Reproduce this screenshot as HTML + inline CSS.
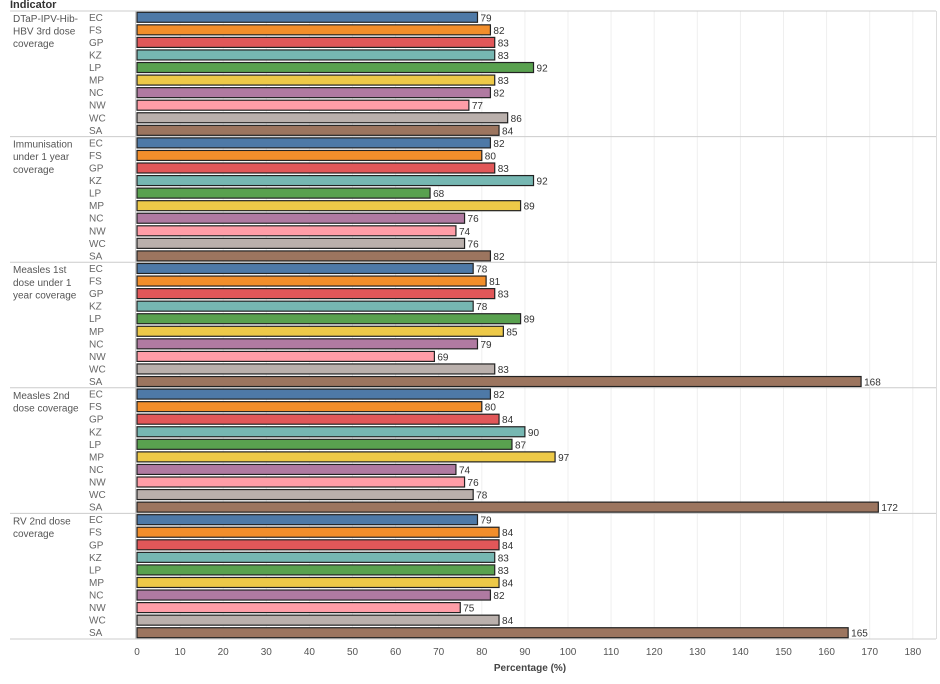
<!DOCTYPE html>
<html><head><meta charset="utf-8"><style>
body{margin:0;background:#fff;font-family:"Liberation Sans",sans-serif;}
svg text{font-family:"Liberation Sans",sans-serif;}
</style></head><body>
<svg id="chart" width="940" height="679" xmlns="http://www.w3.org/2000/svg"></svg>
<script>
const indicators = [["DTaP-IPV-Hib-","HBV 3rd dose","coverage"],["Immunisation","under 1 year","coverage"],["Measles 1st","dose under 1","year coverage"],["Measles 2nd","dose coverage"],["RV 2nd dose","coverage"]];
const provinces = ["EC","FS","GP","KZ","LP","MP","NC","NW","WC","SA"];
const dtapValues = [79,82,83,83,92,83,82,77,86,84];
const immunValues = [82,80,83,92,68,89,76,74,76,82];
const measles1Values = [78,81,83,78,89,85,79,69,83,168];
const measles2Values = [82,80,84,90,87,97,74,76,78,172];
const rvValues = [79,84,84,83,83,84,82,75,84,165];
const xTicks = [0,10,20,30,40,50,60,70,80,90,100,110,120,130,140,150,160,170,180];
const seriesValues = [dtapValues, immunValues, measles1Values, measles2Values, rvValues];
const colors = ["#4e79a7","#f28e2b","#e15759","#76b7b2","#59a14f","#edc948","#b07aa1","#ff9da7","#bab0ac","#9c755f"];

const svg = document.getElementById('chart');
const NS = "http://www.w3.org/2000/svg";
const x0 = 137, scale = 4.31, top0 = 11, groupH = 125.6, rowH = groupH/10;
const xPos = v => x0 + v*scale;
function mk(tag, attrs, name, text){
  const e = document.createElementNS(NS, tag);
  for (const k in attrs) e.setAttribute(k, attrs[k]);
  
  
  if (text !== undefined) e.textContent = text;
  svg.appendChild(e); return e;
}
// header
mk('text',{x:10,y:8,'font-size':11,'font-weight':'bold',fill:'#333'},'indicator-header','Indicator');
// gridlines
xTicks.forEach(t=>{
  if(t>0) mk('line',{x1:xPos(t),x2:xPos(t),y1:top0,y2:top0+5*groupH,stroke:'#efefef','stroke-width':1},'gridline');
  mk('text',{x:xPos(t),y:655,'font-size':10,fill:'#555','text-anchor':'middle'},'x-tick-label',String(t));
});
mk('line',{x1:135.5,x2:135.5,y1:top0,y2:top0+5*groupH,stroke:'#ccc'},'y-axis-line');
mk('line',{x1:936.5,x2:936.5,y1:top0,y2:top0+5*groupH,stroke:'#ddd'},'right-border');
for(let g=0; g<=5; g++){
  const y = top0 + g*groupH;
  mk('line',{x1:10,x2:936,y1:y,y2:y,stroke:'#ccc'},'group-separator');
}
seriesValues.forEach((vals,g)=>{
  const gy = top0 + g*groupH;
  indicators[g].forEach((ln,i)=>{
    mk('text',{x:13,y:gy+11+i*12.6,'font-size':10,fill:'#555'},'indicator-label',ln);
  });
  vals.forEach((v,i)=>{
    const cy = gy + (i+0.5)*rowH;
    mk('text',{x:89,y:cy+3.5,'font-size':10,fill:'#666'},'province-label',provinces[i]);
    mk('rect',{x:x0,y:cy-5,width:xPos(v)-x0,height:10,fill:colors[i],stroke:'#222','stroke-width':1.2},'bar-'+provinces[i].toLowerCase());
    mk('text',{x:xPos(v)+3,y:cy+4,'font-size':10,fill:'#333'},'value-label',String(v));
  });
});
mk('text',{x:530,y:671,'font-size':10,'font-weight':'bold',fill:'#444','text-anchor':'middle'},'x-axis-title','Percentage (%)');
</script>
</body></html>
